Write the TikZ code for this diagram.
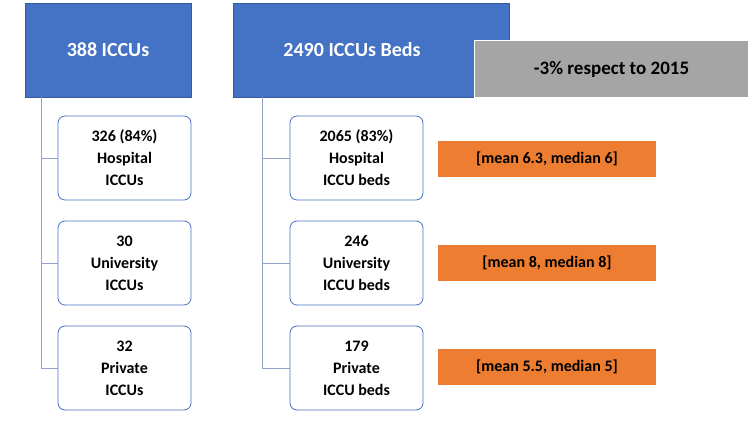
\documentclass[tikz,border=0pt]{standalone}
\usepackage{fontspec}
\setmainfont{Carlito}
\definecolor{hblue}{HTML}{4472C4}
\definecolor{hgray}{HTML}{A5A5A5}
\definecolor{horange}{HTML}{ED7D31}
\definecolor{lline}{HTML}{8FA3C8}
\begin{document}
\begin{tikzpicture}[x=1pt,y=-1pt,
  head/.style={draw=hblue!80!black,fill=hblue,text=white,font=\bfseries\fontsize{20}{24}\selectfont,minimum height=94pt,inner sep=0pt},
  child/.style={draw=hblue,line width=0.8pt,rounded corners=7pt,fill=white,minimum width=133pt,minimum height=84pt,align=center,font=\bfseries\fontsize{16}{22}\selectfont},
  stat/.style={fill=horange,minimum width=218pt,minimum height=36pt,font=\bfseries\fontsize{16}{19}\selectfont},
  conn/.style={draw=lline,line width=0.8pt}]
\useasboundingbox (0,0) rectangle (750,433);
\node[head,minimum width=166pt] (h1) at (108,50) {388 ICCUs};
\node[head,minimum width=276pt,anchor=center] (h2) at (371,50) {\hspace*{-38pt}2490 ICCUs Beds};
\node[fill=hgray,draw=white,line width=1pt,minimum width=274pt,minimum height=57pt,font=\bfseries\fontsize{19}{22}\selectfont] (g) at (611.5,69) {-3\% respect to 2015};
\coordinate (v1) at (41,97);
\coordinate (v2) at (262,97);
\node[child] (a1) at (124.5,158) {326 (84\%)\\Hospital\\ICCUs};
\node[child] (a2) at (124.5,263) {30\\University\\ICCUs};
\node[child] (a3) at (124.5,368) {32\\Private\\ICCUs};
\node[child] (b1) at (356.5,158) {2065 (83\%)\\Hospital\\ICCU beds};
\node[child] (b2) at (356.5,263) {246\\University\\ICCU beds};
\node[child] (b3) at (356.5,368) {179\\Private\\ICCU beds};
\coordinate (e1) at (41,368);
\coordinate (e2) at (262,368);
\draw[conn] (v1) -- (e1) -- (a3.west);
\draw[conn] (v1 |- a1) -- (a1.west);
\draw[conn] (v1 |- a2) -- (a2.west);
\draw[conn] (v2) -- (e2) -- (b3.west);
\draw[conn] (v2 |- b1) -- (b1.west);
\draw[conn] (v2 |- b2) -- (b2.west);
\node[stat] (s1) at (547,159) {[mean 6.3, median 6]};
\node[stat] (s2) at (547,263) {[mean 8, median 8]};
\node[stat] (s3) at (547,367) {[mean 5.5, median 5]};
\end{tikzpicture}
\end{document}
